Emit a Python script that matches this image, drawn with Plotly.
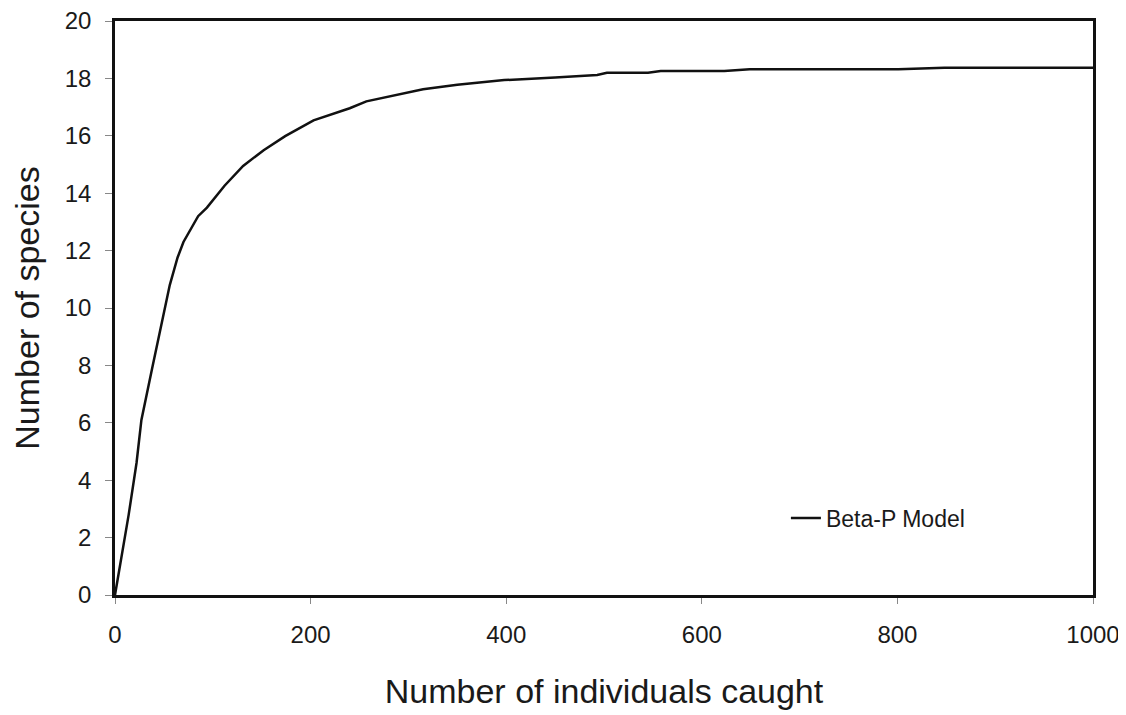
import plotly.graph_objects as go

individuals = [0, 14, 22, 27, 38, 48, 56, 64, 70, 85, 94, 112, 131, 152, 174, 203, 240, 257, 290, 315,
               350, 398, 450, 493, 503, 545, 558, 623, 649, 801, 848, 1000]
species = [0, 2.8, 4.6, 6.1, 7.9, 9.55, 10.8, 11.76, 12.3, 13.2, 13.5, 14.26, 14.95, 15.5, 15.99, 16.54,
           16.96, 17.2, 17.45, 17.62, 17.78, 17.94, 18.03, 18.12, 18.2, 18.2, 18.26, 18.26, 18.32, 18.32,
           18.37, 18.37]
series_name = "Beta-P Model"
x_ticks = [0, 200, 400, 600, 800, 1000]
y_ticks = [0, 2, 4, 6, 8, 10, 12, 14, 16, 18, 20]

fig = go.Figure()
fig.add_trace(go.Scatter(x=individuals, y=species, mode="lines", name=series_name,
                         line=dict(color="#111111", width=2.5)))

font_family = "Liberation Sans, Arial, sans-serif"
# the page body has an 8px default margin, so the figure is sized to fit the 1126x715 window
fig.update_layout(
    width=1118, height=707,
    margin=dict(l=107, r=33, t=13, b=120),
    paper_bgcolor="white", plot_bgcolor="white",
    font=dict(family=font_family, color="#1a1a1a"),
    showlegend=True,
    legend=dict(x=0.686, y=0.134, xanchor="left", yanchor="middle",
                font=dict(size=23, family=font_family, color="#1a1a1a"),
                bgcolor="rgba(0,0,0,0)"),
)
fig.update_xaxes(range=[0, 1000], tickvals=x_ticks, showgrid=False, zeroline=False,
                 showline=True, linecolor="#111111", linewidth=2.5, mirror=True,
                 ticks="outside", ticklen=6, tickcolor="#888888", tickwidth=1,
                 automargin=False, ticklabelstandoff=10, ticklabeloverflow="allow",
                 tickfont=dict(size=24), title=dict(text="Number of individuals caught",
                 font=dict(size=34), standoff=33))
fig.update_yaxes(range=[0, 20], tickvals=y_ticks, showgrid=False, zeroline=False,
                 showline=True, linecolor="#111111", linewidth=2.5, mirror=True,
                 ticks="outside", ticklen=7, tickcolor="#888888", tickwidth=1,
                 automargin=False, ticklabelstandoff=9, ticklabeloverflow="allow",
                 tickfont=dict(size=24), title=dict(text="Number of species",
                 font=dict(size=34), standoff=17))

fig.write_html("out.html")
